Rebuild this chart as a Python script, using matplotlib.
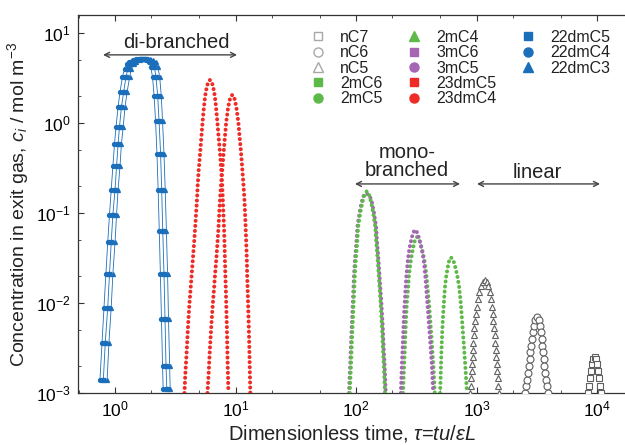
import matplotlib
matplotlib.use('Agg')
import matplotlib.pyplot as plt
from matplotlib.lines import Line2D
from matplotlib.ticker import LogLocator, NullFormatter

plt.rcParams['font.family'] = ['Liberation Sans', 'DejaVu Sans']
plt.rcParams['mathtext.fontset'] = 'custom'
plt.rcParams['mathtext.rm'] = 'Liberation Sans'
plt.rcParams['mathtext.it'] = 'Liberation Sans:italic'
plt.rcParams['mathtext.sf'] = 'Liberation Sans'

# ---- data (tau, concentration) ----
# di-branched, blue
tau_22dmC4 = [0.75, 0.78, 0.81, 0.84, 0.87, 0.90, 0.93, 0.96, 0.99, 1.02, 1.06, 1.10, 1.15, 1.20, 1.25, 1.30,
              1.40, 1.50, 1.60, 1.70, 1.80, 1.90, 1.98, 2.05, 2.11, 2.17, 2.23, 2.28, 2.33, 2.38, 2.43, 2.48, 2.51]
tau_22dmC5 = [0.80, 0.83, 0.87, 0.90, 0.93, 0.96, 1.00, 1.03, 1.06, 1.09, 1.13, 1.18, 1.23, 1.28, 1.34, 1.39,
              1.50, 1.61, 1.71, 1.82, 1.93, 2.03, 2.12, 2.19, 2.26, 2.32, 2.39, 2.44, 2.49, 2.55, 2.60, 2.65, 2.69]
tau_22dmC3 = [0.86, 0.89, 0.93, 0.96, 1.00, 1.03, 1.06, 1.10, 1.13, 1.17, 1.21, 1.26, 1.32, 1.37, 1.43, 1.49,
              1.60, 1.72, 1.83, 1.95, 2.06, 2.18, 2.27, 2.35, 2.42, 2.48, 2.55, 2.61, 2.67, 2.73, 2.78, 2.84, 2.87]
c_22dm = [0.0014, 0.0036, 0.0089, 0.021, 0.047, 0.096, 0.18, 0.33, 0.58, 0.91, 1.5, 2.2, 3.2, 4.0, 4.5, 4.8,
          5.0, 5.1, 5.1, 5.1, 5.0, 4.8, 4.2, 3.2, 2.0, 1.05, 0.45, 0.18, 0.063, 0.021, 0.0066, 0.002, 0.0011]

# di-branched, red
tau_23dmC4 = [3.77, 3.82, 3.87, 3.94, 4.02, 4.08, 4.15, 4.25, 4.32, 4.42, 4.55, 4.63, 4.71, 4.80, 4.85, 4.95,
              5.11, 5.21, 5.32, 5.47, 5.60, 5.77, 5.94, 6.14, 6.34, 6.53, 6.73, 6.89, 7.08, 7.24, 7.40, 7.62,
              7.76, 7.83, 7.93, 8.02, 8.09, 8.17, 8.24, 8.30, 8.37, 8.43, 8.49, 8.55, 8.61, 8.67, 8.73]
c_23dmC4 = [0.001, 0.0015, 0.002, 0.003, 0.005, 0.007, 0.01, 0.015, 0.02, 0.03, 0.05, 0.07, 0.1, 0.15, 0.2, 0.3,
            0.5, 0.7, 1, 1.5, 2, 2.5, 2.85, 3.0, 2.85, 2.5, 2, 1.5, 1, 0.7, 0.5, 0.3,
            0.2, 0.15, 0.1, 0.07, 0.05, 0.03, 0.02, 0.015, 0.01, 0.007, 0.005, 0.003, 0.002, 0.0015, 0.001]
tau_23dmC5 = [5.85, 5.96, 6.03, 6.12, 6.27, 6.37, 6.49, 6.65, 6.75, 6.92, 7.11, 7.23, 7.33, 7.46, 7.57, 7.76,
              8.00, 8.17, 8.36, 8.69, 9.04, 9.40, 9.77, 10.16, 10.57, 10.81, 11.07, 11.40, 11.66, 11.83, 12.0,
              12.13, 12.25, 12.42, 12.50, 12.59, 12.71, 12.82, 12.91, 13.03, 13.12, 13.18, 13.27]
c_23dmC5 = [0.001, 0.0015, 0.002, 0.003, 0.005, 0.007, 0.01, 0.015, 0.02, 0.03, 0.05, 0.07, 0.1, 0.15, 0.2, 0.3,
            0.5, 0.7, 1, 1.5, 1.9, 2.05, 1.9, 1.5, 1, 0.7, 0.5, 0.3, 0.2, 0.15, 0.1,
            0.07, 0.05, 0.03, 0.02, 0.015, 0.01, 0.007, 0.005, 0.003, 0.002, 0.0015, 0.001]

# mono-branched
tau_2mC5 = [88.7, 89.9, 90.8, 91.8, 93.3, 94.4, 95.5, 96.8, 97.7, 99.5, 102.6, 104.2, 108.4, 112.7, 117.5, 122.7,
            128.2, 133.7, 139.0, 144.5, 146.9, 151.4, 154.5, 156.7, 160.0, 162.5, 164.8, 167.5, 170.2, 171.8, 173.8]
c_2mC5 = [0.001, 0.0015, 0.002, 0.003, 0.005, 0.007, 0.01, 0.015, 0.02, 0.03, 0.05, 0.07, 0.1, 0.13, 0.16, 0.174,
          0.16, 0.13, 0.1, 0.07, 0.05, 0.03, 0.02, 0.015, 0.01, 0.007, 0.005, 0.003, 0.002, 0.0015, 0.001]
tau_3mC5 = [87.4, 88.5, 89.4, 90.4, 91.9, 93.0, 94.1, 95.3, 96.2, 98.0, 101.1, 102.6, 106.8, 111.0, 115.7, 122.0,
            130.1, 135.7, 141.1, 146.7, 149.1, 153.7, 156.8, 159.1, 162.4, 164.9, 167.3, 170.0, 172.8, 174.4, 176.4]
c_3mC5 = [0.001, 0.0015, 0.002, 0.003, 0.005, 0.007, 0.01, 0.015, 0.02, 0.03, 0.05, 0.07, 0.1, 0.13, 0.155, 0.165,
          0.155, 0.13, 0.1, 0.07, 0.05, 0.03, 0.02, 0.015, 0.01, 0.007, 0.005, 0.003, 0.002, 0.0015, 0.001]
tau_3mC6 = [235.5, 238.2, 239.9, 243.2, 247.2, 249.5, 253.5, 258.2, 261.8, 269.2, 277.3, 287.1, 297.2, 309.0,
            323.6, 336.5, 350.8, 364.8, 375.8, 382.0, 390.8, 399.0, 406.4, 417.8, 426.6, 430.5, 437.5]
c_3mC6 = [0.001, 0.0015, 0.002, 0.003, 0.005, 0.007, 0.01, 0.015, 0.02, 0.03, 0.04, 0.05, 0.06, 0.065,
          0.06, 0.05, 0.04, 0.03, 0.02, 0.015, 0.01, 0.007, 0.005, 0.003, 0.002, 0.0015, 0.001]
tau_2mC6 = [245.5, 248.3, 250.6, 254.1, 257.6, 260.6, 264.2, 271.0, 274.8, 285.1, 296.5, 308.3, 320.6,
            335.7, 352.4, 369.0, 384.6, 391.7, 402.7, 411.1, 418.8, 429.5, 438.5, 443.6, 449.8]
c_2mC6 = [0.001, 0.0015, 0.002, 0.003, 0.005, 0.007, 0.01, 0.015, 0.02, 0.03, 0.04, 0.05, 0.054,
          0.05, 0.04, 0.03, 0.02, 0.015, 0.01, 0.007, 0.005, 0.003, 0.002, 0.0015, 0.001]
tau_2mC4 = [498, 504, 507, 512, 520, 527, 536, 547, 561, 578, 594, 614,
            641, 667, 693, 718, 740, 755, 769, 791, 807, 818, 834]
c_2mC4 = [0.001, 0.0015, 0.002, 0.003, 0.005, 0.007, 0.01, 0.015, 0.02, 0.025, 0.03, 0.032,
          0.03, 0.025, 0.02, 0.015, 0.01, 0.007, 0.005, 0.003, 0.002, 0.0015, 0.001]

# linear
tau_nC5 = [885, 895, 906, 914, 920, 927, 933, 940, 951, 962, 975, 989, 1005, 1028, 1057, 1094, 1130, 1178,
           1219, 1250, 1285, 1315, 1340, 1358, 1377, 1393, 1413, 1429, 1445, 1459, 1476, 1486, 1503, 1521, 1538]
c_nC5 = [0.00100, 0.00120, 0.00145, 0.00174, 0.00209, 0.00251, 0.00302, 0.00363, 0.00437, 0.00525, 0.00631,
         0.00759, 0.00912, 0.0110, 0.0132, 0.0155, 0.0172, 0.0180, 0.0172, 0.0155, 0.0132, 0.0110, 0.00912,
         0.00759, 0.00631, 0.00525, 0.00437, 0.00363, 0.00302, 0.00251, 0.00209, 0.00174, 0.00145, 0.00120, 0.00100]
tau_nC6 = [2523, 2582, 2636, 2698, 2729, 2761, 2799, 2844, 2884, 2931, 2992, 3062, 3177,
           3281, 3357, 3420, 3467, 3516, 3565, 3614, 3648, 3690, 3767, 3846, 3917]
c_nC6 = [0.00100, 0.00119, 0.00141, 0.00168, 0.00200, 0.00237, 0.00282, 0.00335, 0.00398, 0.00473, 0.00562,
         0.00646, 0.00698, 0.00646, 0.00562, 0.00473, 0.00398, 0.00335, 0.00282, 0.00237, 0.00200, 0.00168,
         0.00141, 0.00119, 0.00100]
tau_nC7 = [8492, 8630, 8770, 8913, 9099, 9311, 9572, 9840, 10069, 10280, 10447, 10617, 10789]
c_nC7 = [0.00100, 0.00120, 0.00145, 0.00174, 0.00209, 0.00240, 0.00253, 0.00240, 0.00209, 0.00174, 0.00145,
         0.00120, 0.00100]

# colours
blue = '#1b6fba'
red = '#ee2b25'
green = '#5dba48'
purple = '#a566b4'
grey = '#606060'


def dotted(ax, x, y, color, z):
    # the dense marker chains look like a thick dotted line
    ax.plot(x, y, color=color, lw=2.9, ls=(0, (0.01, 1.25)), dash_capstyle='round', zorder=z)


fig = plt.figure(figsize=(6.25, 4.45), dpi=100)
ax = fig.add_axes([78 / 625, 52 / 445, 547 / 625, 378 / 445])
ax.set_xscale('log')
ax.set_yscale('log')

# blue di-branched
for t, m in [(tau_22dmC4, 'o'), (tau_22dmC5, 's'), (tau_22dmC3, '^')]:
    ax.plot(t, c_22dm, color=blue, lw=0.6, marker=m, ms=2.8, zorder=3)

# red di-branched
dotted(ax, tau_23dmC4, c_23dmC4, red, 3)
dotted(ax, tau_23dmC5, c_23dmC5, red, 3)

# mono-branched
dotted(ax, tau_3mC5, c_3mC5, purple, 3)
dotted(ax, tau_2mC5, c_2mC5, green, 4)
dotted(ax, tau_2mC6, c_2mC6, green, 3)
dotted(ax, tau_3mC6, c_3mC6, purple, 4)
dotted(ax, tau_2mC4, c_2mC4, green, 3)

# linear, hollow markers
for t, c, m in [(tau_nC5, c_nC5, '^'), (tau_nC6, c_nC6, 'o'), (tau_nC7, c_nC7, 's')]:
    ax.plot(t, c, ls='none', marker=m, ms=5, mfc='white', mec=grey, mew=0.8, zorder=3)

ax.set_xlim(0.493, 17070)
ax.set_ylim(1e-3, 15.8)
ax.spines['right'].set_visible(False)
for s in ['left', 'bottom', 'top']:
    ax.spines[s].set_color('#333333')
    ax.spines[s].set_linewidth(0.9)

ax.xaxis.set_minor_locator(LogLocator(base=10, subs=(2, 5)))
ax.yaxis.set_minor_locator(LogLocator(base=10, subs=(2, 5)))
ax.xaxis.set_minor_formatter(NullFormatter())
ax.yaxis.set_minor_formatter(NullFormatter())
ax.tick_params(which='both', direction='in', top=True, right=False, color='#333333')
ax.tick_params(which='major', length=4, labelsize=12.5, pad=5)
ax.tick_params(which='minor', length=2)

ax.set_xlabel(r'Dimensionless time, $\tau$=$tu/\varepsilon L$', fontsize=14.5, color='#222222', labelpad=2)
ax.set_ylabel(r'Concentration in exit gas, $c_i$ / mol m$^{-3}$', fontsize=14, color='#222222', labelpad=4)

# group arrows and labels
arrow = dict(arrowstyle='<->', color='#444444', lw=1.0, shrinkA=0, shrinkB=0,
             mutation_scale=9)
ax.annotate('', xy=(0.795, 5.7), xytext=(10.3, 5.7), arrowprops=arrow)
ax.text(3.21, 7.9, 'di-branched', ha='center', va='center', fontsize=14.5, color='#222222')
ax.annotate('', xy=(98, 0.21), xytext=(730, 0.21), arrowprops=arrow)
ax.text(265, 0.37, 'mono-\nbranched', ha='center', va='center', fontsize=14.5, color='#222222',
        linespacing=0.95)
ax.annotate('', xy=(1010, 0.21), xytext=(10590, 0.21), arrowprops=arrow)
ax.text(3177, 0.28, 'linear', ha='center', va='center', fontsize=14.5, color='#222222')

# legend
lg = '#a8a8a8'
handles = [
    Line2D([], [], ls='none', marker='s', ms=5.5, mfc='white', mec=lg, label='nC7'),
    Line2D([], [], ls='none', marker='o', ms=6.5, mfc='white', mec=lg, label='nC6'),
    Line2D([], [], ls='none', marker='^', ms=6.5, mfc='white', mec=lg, label='nC5'),
    Line2D([], [], ls='none', marker='s', ms=5.5, color=green, label='2mC6'),
    Line2D([], [], ls='none', marker='o', ms=6.5, color=green, label='2mC5'),
    Line2D([], [], ls='none', marker='^', ms=6.5, color=green, label='2mC4'),
    Line2D([], [], ls='none', marker='s', ms=5.5, color=purple, label='3mC6'),
    Line2D([], [], ls='none', marker='o', ms=6.5, color=purple, label='3mC5'),
    Line2D([], [], ls='none', marker='s', ms=5.5, color=red, label='23dmC5'),
    Line2D([], [], ls='none', marker='o', ms=6.5, color=red, label='23dmC4'),
    Line2D([], [], ls='none', marker='s', ms=5.5, color=blue, label='22dmC5'),
    Line2D([], [], ls='none', marker='o', ms=6.5, color=blue, label='22dmC4'),
    Line2D([], [], ls='none', marker='^', ms=6.5, color=blue, label='22dmC3'),
    Line2D([], [], ls='none', label=' '),
    Line2D([], [], ls='none', label=' '),
]
leg = ax.legend(handles=handles, ncol=3, loc='upper left', bbox_to_anchor=(310 / 625, 1 - 30 / 445),
                bbox_transform=fig.transFigure, frameon=False, fontsize=11.5, handlelength=1.0,
                handletextpad=0.9, columnspacing=1.45, labelspacing=0.02, borderpad=0, borderaxespad=0)
for t in leg.get_texts():
    t.set_color('#222222')

fig.savefig('out.png', dpi=100)
